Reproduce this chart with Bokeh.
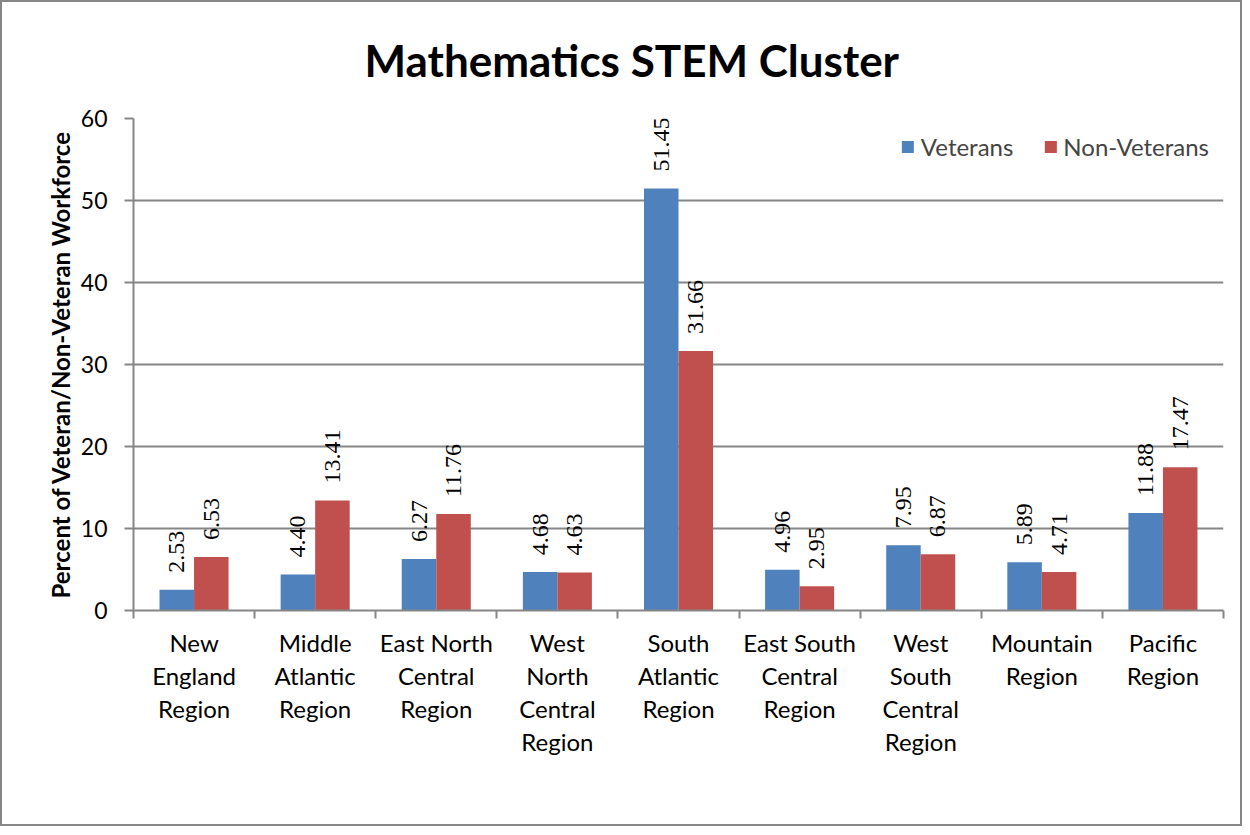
from bokeh.plotting import figure
from bokeh.models import (ColumnDataSource, FixedTicker, LabelSet, Legend, LegendItem,
                          LinearAxis, Range1d, Title)
from bokeh.transform import dodge
from bokeh.embed import file_html
from bokeh.resources import INLINE

categories = ["New\nEngland\nRegion", "Middle\nAtlantic\nRegion", "East North\nCentral\nRegion",
              "West\nNorth\nCentral\nRegion", "South\nAtlantic\nRegion",
              "East South\nCentral\nRegion", "West\nSouth\nCentral\nRegion",
              "Mountain\nRegion", "Pacific\nRegion"]
veterans = [2.53, 4.40, 6.27, 4.68, 51.45, 4.96, 7.95, 5.89, 11.88]
non_veterans = [6.53, 13.41, 11.76, 4.63, 31.66, 2.95, 6.87, 4.71, 17.47]
y_ticks = [0, 10, 20, 30, 40, 50, 60]

FONT = "Lato"
GRAY = "#868686"
BLUE = "#4F81BD"
RED = "#C0504D"

centers = [i + 0.5 for i in range(len(categories))]
bounds = [float(i) for i in range(len(categories) + 1)]
split = [c.split("\n") for c in categories]
n_lines = max(len(s) for s in split)

src = ColumnDataSource(dict(
    x=centers,
    vet=veterans,
    non=non_veterans,
    vet_lbl=[f"{v:.2f}" for v in veterans],
    non_lbl=[f"{v:.2f}" for v in non_veterans],
))

FW, FH = 1090, 492
p = figure(frame_width=FW, frame_height=FH, output_backend="svg", toolbar_location=None,
           x_range=Range1d(0, len(categories)), y_range=Range1d(0, 60),
           min_border_left=131, min_border_right=17, min_border_top=115,
           min_border_bottom=214)
p.outline_line_color = None
p.background_fill_color = "white"
p.border_fill_color = "white"
p.styles = {"border": "2px solid #868686"}

BW = 0.285
rv = p.vbar(x=dodge("x", -BW / 2, range=p.x_range), top="vet", width=BW, source=src,
            fill_color=BLUE, line_color=None)
rn = p.vbar(x=dodge("x", BW / 2, range=p.x_range), top="non", width=BW, source=src,
            fill_color=RED, line_color=None)

for col, lbl, off in (("vet", "vet_lbl", -BW / 2), ("non", "non_lbl", BW / 2)):
    ls = LabelSet(x=dodge("x", off, range=p.x_range), y=col, text=lbl, source=src,
                  angle=1.5708, text_align="left", text_baseline="middle",
                  y_offset=17, text_font=FONT, text_font_size="24px", text_color="black")
    p.add_layout(ls)

# y axis
p.yaxis.ticker = FixedTicker(ticks=y_ticks)
p.yaxis.axis_line_color = GRAY
p.yaxis.axis_line_width = 2
p.yaxis.major_tick_line_color = GRAY
p.yaxis.major_tick_line_width = 2
p.yaxis.major_tick_in = 0
p.yaxis.major_tick_out = 9
p.yaxis.minor_tick_line_color = None
p.yaxis.major_label_text_font = FONT
p.yaxis.major_label_text_font_size = "23px"
p.yaxis.major_label_text_color = "black"
p.yaxis.major_label_standoff = 17
p.yaxis.axis_label = "Percent of Veteran/Non-Veteran Workforce"
p.yaxis.axis_label_text_font = FONT
p.yaxis.axis_label_text_font_size = "24px"
p.yaxis.axis_label_text_font_style = "bold"
p.yaxis.axis_label_text_color = "black"
p.yaxis.axis_label_standoff = 3


def style_label_axis(ax, k):
    ax.ticker = FixedTicker(ticks=centers)
    ax.major_label_overrides = {c: (s[k] if k < len(s) else "") for c, s in zip(centers, split)}
    ax.major_label_text_font = FONT
    ax.major_label_text_font_size = "24px"
    ax.major_label_text_color = "black"
    ax.major_label_text_line_height = 1.0
    ax.major_tick_line_color = None
    ax.major_tick_in = 0


# x axis (first label line, boundary ticks)
xa = p.xaxis[0]
style_label_axis(xa, 0)
xa.ticker = FixedTicker(ticks=centers, minor_ticks=bounds)
xa.axis_line_color = GRAY
xa.axis_line_width = 2
xa.major_tick_out = 8
xa.minor_tick_line_color = GRAY
xa.minor_tick_line_width = 2
xa.minor_tick_in = 0
xa.minor_tick_out = 8
xa.major_label_standoff = 9

# further label lines of the category names
for k in range(1, n_lines):
    ax = LinearAxis()
    style_label_axis(ax, k)
    ax.axis_line_color = None
    ax.minor_tick_line_color = None
    ax.major_tick_out = 0
    ax.minor_tick_out = 0
    ax.minor_tick_in = 0
    ax.major_label_standoff = 1
    p.add_layout(ax, "below")

p.xgrid.grid_line_color = None
p.ygrid.ticker = FixedTicker(ticks=y_ticks)
p.ygrid.grid_line_color = GRAY
p.ygrid.grid_line_width = 2

p.title = Title(text="Mathematics STEM Cluster", align="left", offset=231,
                vertical_align="top", standoff=62, text_font=FONT,
                text_font_size="44px", text_font_style="bold", text_color="black")

legend = Legend(items=[LegendItem(label="Veterans", renderers=[rv]),
                       LegendItem(label="Non-Veterans", renderers=[rn])],
                orientation="horizontal", location="top_right",
                border_line_color=None, background_fill_color="white",
                background_fill_alpha=1.0,
                label_text_font=FONT, label_text_font_size="24px",
                glyph_width=15, glyph_height=15, label_standoff=6, spacing=29,
                padding=4, margin=14)
p.add_layout(legend, "center")

open("out.html", "w").write(file_html(p, INLINE))
